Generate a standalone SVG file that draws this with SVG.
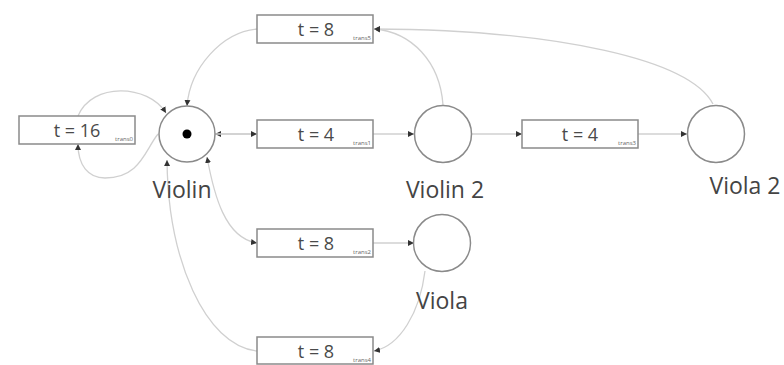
<svg xmlns="http://www.w3.org/2000/svg" width="784" height="365" viewBox="0 0 784 365">
<style>
.arc{fill:none;stroke:#d0d0d0;stroke-width:1.3}
.box{fill:#fff;stroke:#8a8a8a;stroke-width:1.5}
.place{fill:#fff;stroke:#8a8a8a;stroke-width:1.5}
.t{font-family:"Open Sans","Noto Sans",sans-serif;font-size:18px;fill:#4a4a4a;text-anchor:middle}
.sub{font-family:"Open Sans","Noto Sans",sans-serif;font-size:6px;fill:#666;text-anchor:end}
.lbl{font-family:"Open Sans","Noto Sans",sans-serif;font-size:23px;fill:#444;text-anchor:middle}
</style>
<defs>
<marker id="ah" markerUnits="userSpaceOnUse" markerWidth="7" markerHeight="7" refX="6" refY="3.5" orient="auto-start-reverse">
<path d="M0,0.5 L6,3.5 L0,6.5 Z" fill="#333"/>
</marker>
</defs>
<g id="connectors">
<path class="arc" d="M257,134 L215,134" marker-end="url(#ah)"/>
<path class="arc" d="M215,134 L257,134" marker-end="url(#ah)"/>
<path class="arc" d="M373,134 L414,134" marker-end="url(#ah)"/>
<path class="arc" d="M471,134 L522,134" marker-end="url(#ah)"/>
<path class="arc" d="M638,134 L687,134" marker-end="url(#ah)"/>
<path class="arc" d="M443,105 C440,62 412,32 374,29" marker-end="url(#ah)"/>
<path class="arc" d="M713,104 C690,60 560,30 374,29" marker-end="url(#ah)"/>
<path class="arc" d="M257,29 C222,32 190,68 187,106" marker-end="url(#ah)"/>
<path class="arc" d="M78,116 C92,82 148,84 166,113" marker-end="url(#ah)"/>
<path class="arc" d="M158,134 C145,150 140,178 105,178 C88,178 78,165 78,144" marker-end="url(#ah)"/>
<path class="arc" d="M207,157 C214,195 225,238 257,243" marker-start="url(#ah)" marker-end="url(#ah)"/>
<path class="arc" d="M372,243 L414,243" marker-end="url(#ah)"/>
<path class="arc" d="M425,271 C420,312 400,346 374,351" marker-end="url(#ah)"/>
<path class="arc" d="M257,351 C205,345 168,260 167,160" marker-end="url(#ah)"/>
</g>
<g id="violin">
<circle class="place" cx="187" cy="134" r="28"/>
<circle cx="187" cy="134" r="4.5" fill="#000"/>
<text class="lbl" x="182" y="198">Violin</text>
</g>
<g id="violin2">
<circle class="place" cx="443" cy="134" r="28.5"/>
<text class="lbl" x="445" y="198">Violin 2</text>
</g>
<g id="viola2">
<circle class="place" cx="716" cy="134" r="28.5"/>
<text class="lbl" x="745" y="194">Viola 2</text>
</g>
<g id="viola">
<circle class="place" cx="442" cy="243" r="28.5"/>
<text class="lbl" x="442" y="309">Viola</text>
</g>
<g id="trans0">
<rect class="box" x="19" y="116" width="116" height="28"/>
<text class="t" x="77" y="137">t = 16</text>
<text class="sub" x="133" y="141">trans0</text>
</g>
<g id="trans5">
<rect class="box" x="257" y="15" width="116" height="28"/>
<text class="t" x="316" y="36">t = 8</text>
<text class="sub" x="371" y="40">trans5</text>
</g>
<g id="trans1">
<rect class="box" x="257" y="120" width="116" height="28"/>
<text class="t" x="316" y="141">t = 4</text>
<text class="sub" x="371" y="145">trans1</text>
</g>
<g id="trans3">
<rect class="box" x="522" y="120" width="116" height="28"/>
<text class="t" x="580" y="141">t = 4</text>
<text class="sub" x="636" y="145">trans3</text>
</g>
<g id="trans2">
<rect class="box" x="257" y="229" width="116" height="28"/>
<text class="t" x="316" y="250">t = 8</text>
<text class="sub" x="371" y="254">trans2</text>
</g>
<g id="trans4">
<rect class="box" x="257" y="337" width="116" height="27"/>
<text class="t" x="316" y="358">t = 8</text>
<text class="sub" x="371" y="362">trans4</text>
</g>
</svg>
